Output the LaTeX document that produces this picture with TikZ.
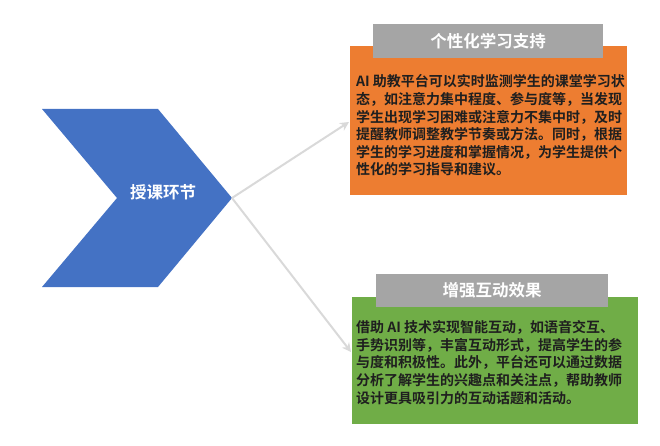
\documentclass[tikz,border=0pt]{standalone}
\usepackage{fontspec}
\setmainfont{Noto Sans CJK SC}[BoldFont={Noto Sans CJK SC Bold}]
\usetikzlibrary{arrows.meta}
\definecolor{cblue}{HTML}{4472C4}
\definecolor{corange}{HTML}{ED7D31}
\definecolor{cgreen}{HTML}{70AD47}
\definecolor{cgray}{HTML}{A5A5A5}
\definecolor{cline}{HTML}{D9D9D9}
\definecolor{ctext}{HTML}{1F1F1F}
\tikzset{
  panel/.style={inner sep=0pt, outer sep=0pt, draw=none},
  titlebox/.style={panel, fill=cgray, text=white, font=\fontsize{16.5}{20}\selectfont\bfseries},
  bodytext/.style={inner sep=0pt, anchor=north west, align=left, text=ctext, font=\fontsize{14}{17.6}\selectfont\bfseries},
  conn/.style={draw=cline, line width=2pt, -{Stealth[length=9pt,width=9pt]}}
}
\begin{document}
\begin{tikzpicture}[x=1pt,y=-1pt]
\useasboundingbox (0,0) rectangle (660,446);
% chevron
\fill[cblue] (42,109) -- (158,109) -- (232,198) -- (158,287) -- (42,287) -- (117,198) -- cycle;
\coordinate (tip) at (232,198);
\node[text=white, font=\fontsize{16.5}{20}\selectfont\bfseries] (chev) at (163,192) {授课环节};
% orange panel
\node[panel, fill=corange, minimum width=277pt, minimum height=149pt] (obox) at (488.5,120.5) {};
\node[titlebox, minimum width=230pt, minimum height=34pt] (otitle) at (488,41) {个性化学习支持};
\node[bodytext] (otext) at (356,74.5) {AI 助教平台可以实时监测学生的课堂学习状\\态，如注意力集中程度、参与度等，当发现\\学生出现学习困难或注意力不集中时，及时\\提醒教师调整教学节奏或方法。同时，根据\\学生的学习进度和掌握情况，为学生提供个\\性化的学习指导和建议。};
% green panel
\node[panel, fill=cgreen, minimum width=286pt, minimum height=127pt] (gbox) at (495,360.5) {};
\node[titlebox, minimum width=232pt, minimum height=33pt] (gtitle) at (492,290.5) {增强互动效果};
\node[bodytext] (gtext) at (356,320.5) {借助 AI 技术实现智能互动，如语音交互、\\手势识别等，丰富互动形式，提高学生的参\\与度和积极性。此外，平台还可以通过数据\\分析了解学生的兴趣点和关注点，帮助教师\\设计更具吸引力的互动话题和活动。};
% connectors
\coordinate (oend) at (349,122);
\coordinate (gend) at (351,352);
\draw[conn] (tip) -- (oend);
\draw[conn] (tip) -- (gend);
\end{tikzpicture}
\end{document}
